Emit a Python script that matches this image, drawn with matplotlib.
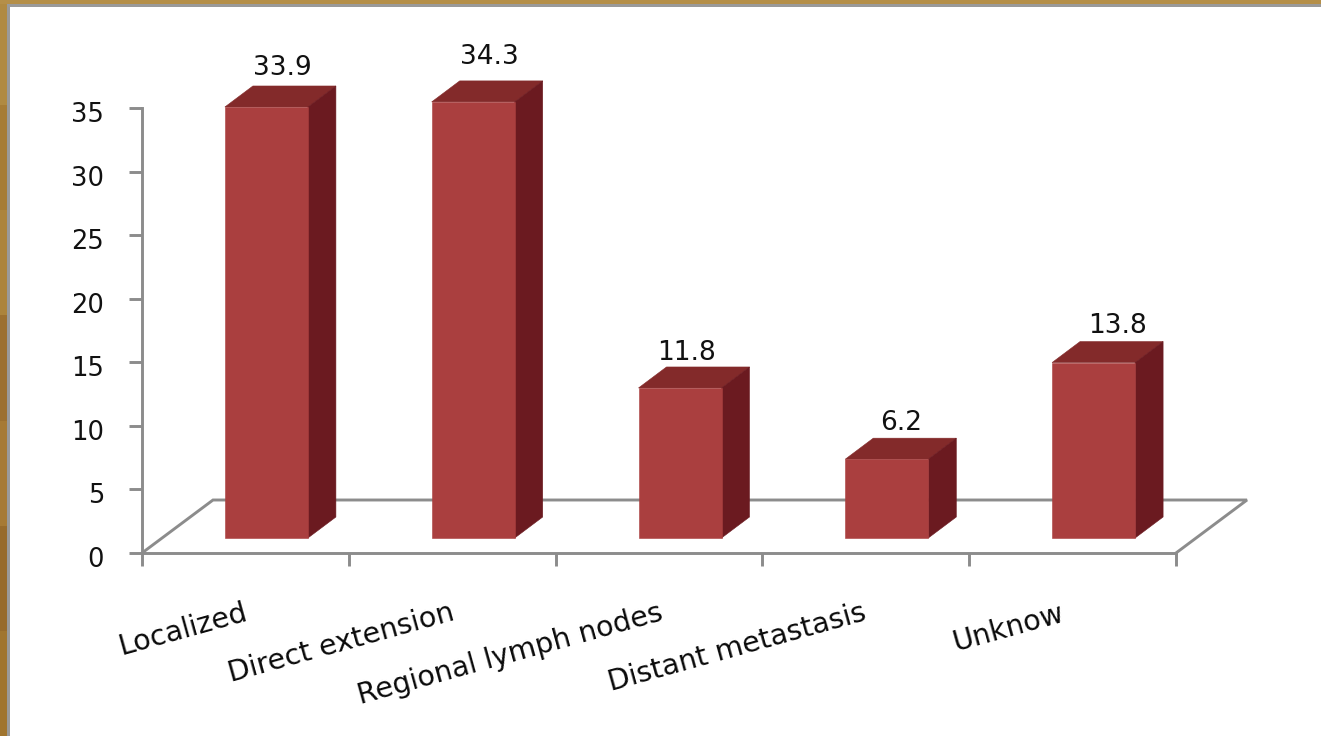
import matplotlib
matplotlib.use("Agg")
import matplotlib.pyplot as plt
from matplotlib.patches import Polygon, Rectangle
from matplotlib.transforms import ScaledTranslation

categories = ["Localized", "Direct extension", "Regional lymph nodes", "Distant metastasis", "Unknow"]
values = [33.9, 34.3, 11.8, 6.2, 13.8]
yticks = [0, 5, 10, 15, 20, 25, 30, 35]
# nudges for the value texts, pixels (the original places them by hand)
label_gap = [5, 11, 1, 2, 3]
label_dx = [2, 2, -7, 0, 10]
# nudges for the category texts, pixels
cat_dx = [-2, -2, 0, -4, -13]

W, H = 1321, 736
DPI = 100
grey = "#8c8c8c"
front_c = "#aa3f3f"
top_c = "#832a2a"
side_c = "#6b1a20"

fig = plt.figure(figsize=(W / DPI, H / DPI), dpi=DPI, facecolor="white")
plt.rcParams["font.family"] = "DejaVu Sans"

# wood frame on top and left
wood = ["#b08a42", "#a67c36", "#ac843c", "#9c7030", "#a67a35", "#976b2c", "#a0752f"]
n = len(wood)
for i, c in enumerate(wood):
    fig.add_artist(Rectangle((0, 1 - (i + 1) / n), 7 / W, 1 / n, transform=fig.transFigure, fc=c, ec="none"))
fig.add_artist(Rectangle((0, 1 - 4 / H), 1, 4 / H, transform=fig.transFigure, fc="#b58f48", ec="none"))
fig.add_artist(Rectangle((7 / W, 0), 2.5 / W, 1 - 4 / H, transform=fig.transFigure, fc="#9a9a9a", ec="none"))
fig.add_artist(Rectangle((7 / W, 1 - 6.5 / H), 1 - 7 / W, 2.5 / H, transform=fig.transFigure, fc="#9a9a9a", ec="none"))

# front plane of the chart is the axes box
ax = fig.add_axes([142 / W, (H - 553) / H, (1176 - 142) / W, (553 - 108) / H], facecolor="none")
ax.set_xlim(0, 5)
ax.set_ylim(0, 35)

ppx = 5 / (1176 - 142)   # data units per pixel, x
ppy = 35 / (553 - 108)   # data units per pixel, y

# floor
floor_dx = 71 * ppx
floor_dy = 53 * ppy
ax.plot([0, floor_dx, 5 + floor_dx, 5], [0, floor_dy, floor_dy, 0], color=grey, lw=2.1,
        clip_on=False, zorder=1, solid_joinstyle="miter")

# bars
bar_w = 83 * ppx
inset_x = 21 * ppx
base = 15 * ppy
depth_x = 28 * ppx
depth_y = 21 * ppy
for i, v in enumerate(values):
    x0 = i + 0.5 + inset_x - bar_w / 2
    x1 = x0 + bar_w
    y1 = base + v
    ax.add_patch(Polygon([(x0, y1), (x1, y1), (x1 + depth_x, y1 + depth_y), (x0 + depth_x, y1 + depth_y)],
                         fc=top_c, ec=top_c, lw=0.4, clip_on=False, zorder=3))
    ax.add_patch(Polygon([(x1, base), (x1 + depth_x, base + depth_y), (x1 + depth_x, y1 + depth_y), (x1, y1)],
                         fc=side_c, ec=side_c, lw=0.4, clip_on=False, zorder=3))
    ax.add_patch(Polygon([(x0, base), (x1, base), (x1, y1), (x0, y1)], fc=front_c, ec=front_c, lw=0.4,
                         clip_on=False, zorder=3))
    ax.annotate(str(v), (x0 + bar_w / 2 + depth_x / 2, y1 + depth_y), xytext=(label_dx[i] * 0.72, label_gap[i] * 0.72),
                textcoords="offset points", ha="center", va="bottom", fontsize=19, color="#111111",
                annotation_clip=False, zorder=4)

for s in ["top", "right"]:
    ax.spines[s].set_visible(False)
for s in ["left", "bottom"]:
    ax.spines[s].set_color(grey)
    ax.spines[s].set_linewidth(2.1)
    ax.spines[s].set_zorder(2)

ax.set_yticks(yticks)
ax.set_xticks(range(6))
ax.set_xticklabels([])
ax.tick_params(axis="both", which="major", color=grey, width=2.1, length=9.4)
ax.tick_params(axis="y", labelsize=18.5, pad=18, labelcolor="#111111")
shift = ScaledTranslation(0, -4 / DPI, fig.dpi_scale_trans)
for lab in ax.get_yticklabels():
    lab.set_transform(lab.get_transform() + shift)

centers = [i + 0.5 for i in range(5)]
ax.set_xticks(centers, minor=True)
ax.set_xticklabels(categories, minor=True, rotation=15.5, ha="right", rotation_mode="anchor", fontsize=20.5, color="#0a0a0a")
ax.tick_params(axis="x", which="minor", length=0, pad=33)
for lab, d in zip(ax.get_xticklabels(minor=True), cat_dx):
    lab.set_transform(lab.get_transform() + ScaledTranslation(d / DPI, 0, fig.dpi_scale_trans))

fig.savefig("out.png", dpi=DPI)
